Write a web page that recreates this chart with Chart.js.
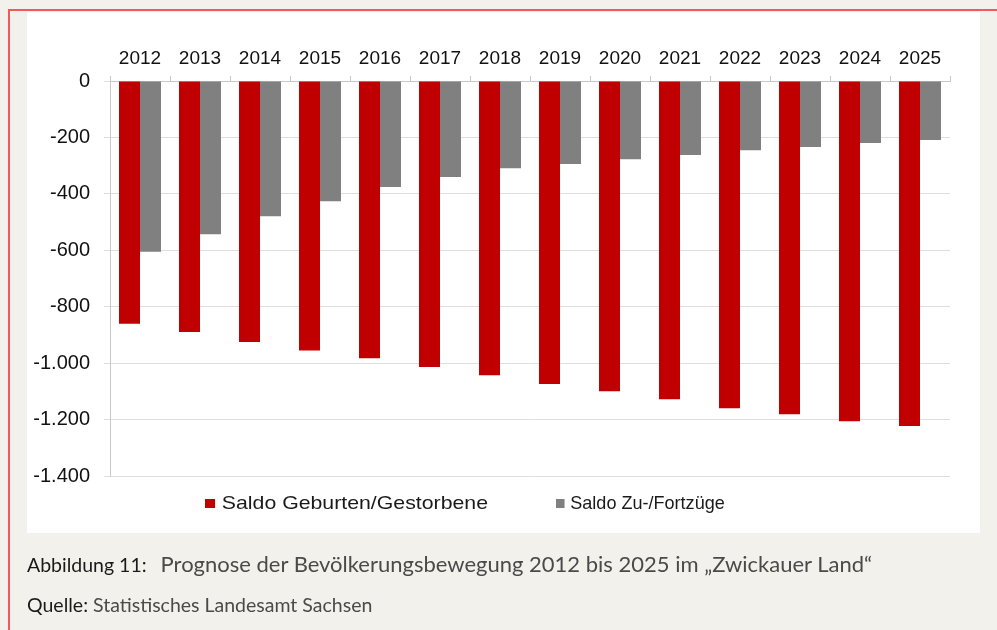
<!DOCTYPE html>
<html lang="de">
<head>
<meta charset="utf-8">
<script src="https://cdn.jsdelivr.net/npm/chart.js@4.4.1/dist/chart.umd.min.js"></script>
<style>
    html, body { margin: 0; padding: 0; }
    body {
        width: 997px; height: 630px; position: relative; overflow: hidden;
        background: #f2f1ec;
    }
    #frame {
        position: absolute; left: 8px; top: 9px; width: 1010px; height: 650px;
        border-left: 2px solid #f25a5a; border-top: 2px solid #f25a5a;
    }
    #panel {
        position: absolute; left: 27px; top: 12px; width: 953px; height: 521px;
        background: #fff;
    }
    #chart { position: absolute; left: 0; top: 0; }
    .legend-item {
        position: absolute; top: 491px; height: 24px; line-height: 24px;
        font-family: "Liberation Sans", Arial, sans-serif; font-size: 19px; color: #1a1a1a;
        white-space: nowrap; transform-origin: left center;
    }
    .legend-item i {
        display: inline-block; width: 9px; height: 9px; margin-right: 6px;
        vertical-align: 1px;
    }
    .caption {
        position: absolute; left: 27px; font-family: Lato, "Open Sans", sans-serif;
        color: #4a4a4a; white-space: nowrap;
    }
    .caption b { font-weight: normal; color: #1a1a1a; }
    #cap1 { top: 550px; font-size: 22px; }
    #cap1 b { font-size: 19.5px; }
    #cap1 span { margin-left: 14px; }
    #cap2 { top: 593px; font-size: 19.5px; }
</style>
</head>
<body>
<div id="panel"><canvas id="chart" width="953" height="521"></canvas></div>
<div id="frame"></div>
<div id="legend"></div>
<div class="caption" id="cap1"><b>Abbildung 11:</b><span>Prognose der Bevölkerungsbewegung 2012 bis 2025 im „Zwickauer Land“</span></div>
<div class="caption" id="cap2"><b>Quelle:</b> Statistisches Landesamt Sachsen</div>
<script>
const years = ["2012", "2013", "2014", "2015", "2016", "2017", "2018", "2019", "2020", "2021", "2022", "2023", "2024", "2025"];
const saldoGeburten = [-860, -890, -925, -955, -983, -1014, -1043, -1074, -1100, -1128, -1160, -1181, -1206, -1223];
const saldoWanderung = [-605, -543, -479, -426, -376, -340, -309, -294, -277, -262, -245, -234, -220, -209];
const seriesLabels = ["Saldo Geburten/Gestorbene", "Saldo Zu-/Fortzüge"];
const seriesColors = ["#c00000", "#808080"];
const yTicks = [0, -200, -400, -600, -800, -1000, -1200, -1400];

function formatDe(v) {
    const s = Math.abs(v).toString().replace(/\B(?=(\d{3})+(?!\d))/g, ".");
    return (v < 0 ? "-" : "") + s;
}

const xFont = { family: "'Liberation Sans', Arial, sans-serif", size: 19 };
const yFont = { family: "'Liberation Sans', Arial, sans-serif", size: 20 };

const ctx = document.getElementById("chart").getContext("2d");
new Chart(ctx, {
    type: "bar",
    data: {
        labels: years,
        datasets: [saldoGeburten, saldoWanderung].map((values, i) => ({
            label: seriesLabels[i],
            data: values,
            backgroundColor: seriesColors[i],
            categoryPercentage: 0.7,
            barPercentage: 1.0
        }))
    },
    options: {
        responsive: false,
        animation: false,
        layout: { padding: { left: 0, top: 0, right: 30, bottom: 57 } },
        plugins: {
            legend: { display: false },
            tooltip: { enabled: false }
        },
        scales: {
            x: {
                position: "top",
                grid: { offset: true, drawOnChartArea: false, drawTicks: true, tickLength: 5, color: "#c8c8c8" },
                border: { display: true, color: "#c8c8c8" },
                ticks: { color: "#111", font: xFont, padding: 6, maxRotation: 0 },
                afterFit: s => { s.height = 69; }
            },
            y: {
                min: yTicks[yTicks.length - 1],
                max: yTicks[0],
                afterBuildTicks: s => { s.ticks = yTicks.map(v => ({ value: v })); },
                grid: { color: "#dedede", tickLength: 6, drawTicks: true },
                border: { display: true, color: "#c8c8c8" },
                ticks: { color: "#111", font: yFont, padding: 14, callback: v => formatDe(v) },
                afterFit: s => { s.width = 83; }
            }
        }
    }
});

// legend drawn as HTML, spacing as in the original figure
const legend = document.getElementById("legend");
const legendX = [205, 556];
const legendStretch = [1.12, 0.95];
seriesLabels.forEach((label, i) => {
    const item = document.createElement("div");
    item.className = "legend-item";
    item.style.left = legendX[i] + "px";
    item.style.transform = `scaleX(${legendStretch[i]})`;
    item.innerHTML = `<i style="background:${seriesColors[i]}"></i>${label}`;
    legend.appendChild(item);
});
</script>
</body>
</html>
